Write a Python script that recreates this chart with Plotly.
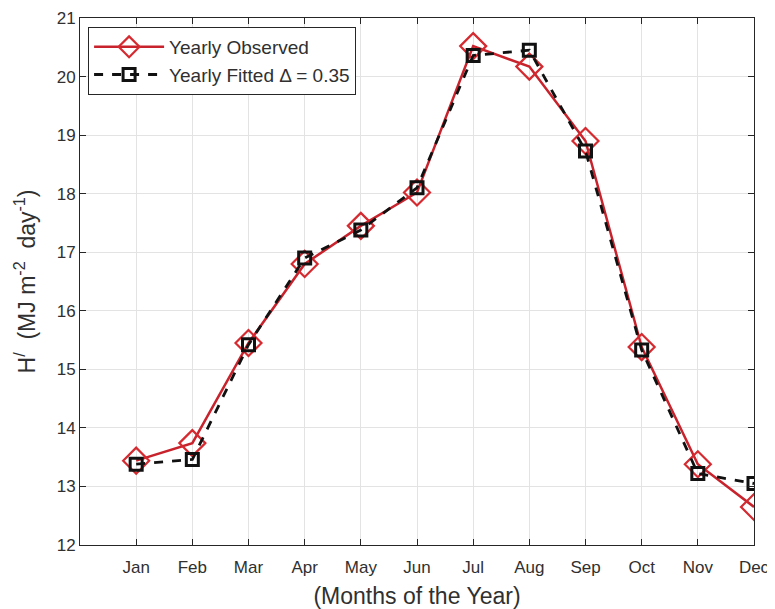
import plotly.graph_objects as go

months = ["Jan", "Feb", "Mar", "Apr", "May", "Jun", "Jul", "Aug", "Sep", "Oct", "Nov", "Dec"]
month_pos = [1, 2, 3, 4, 5, 6, 7, 8, 9, 10, 11, 12]
observed = [13.44, 13.74, 15.45, 16.80, 17.45, 18.02, 20.52, 20.17, 18.90, 15.38, 13.38, 12.65]
fitted = [13.38, 13.46, 15.42, 16.90, 17.38, 18.10, 20.36, 20.45, 18.73, 15.33, 13.22, 13.05]
y_ticks = [12, 13, 14, 15, 16, 17, 18, 19, 20, 21]

fig = go.Figure()
fig.add_trace(go.Scatter(
    x=month_pos, y=observed, mode="lines+markers", name="Yearly Observed",
    line=dict(color="#c8232c", width=2.5),
    marker=dict(symbol="diamond-open", size=20, color="#d42a30", line=dict(width=2.2, color="#d42a30")),
))
fig.add_trace(go.Scatter(
    x=month_pos, y=fitted, mode="lines+markers", name="Yearly Fitted \u0394 = 0.35",
    line=dict(color="#111111", width=2.8, dash="dash"),
    marker=dict(symbol="square-open", size=12, color="#111111", line=dict(width=3, color="#111111")),
))

fig.update_layout(
    width=767, height=601,
    paper_bgcolor="white", plot_bgcolor="white",
    margin=dict(l=72, r=21, t=10, b=64),
    font=dict(family="Liberation Sans, Arial, sans-serif", color="#303030", size=16),
    showlegend=True,
    legend=dict(
        x=0.012, y=0.983, xanchor="left", yanchor="top",
        bgcolor="white", bordercolor="#262626", borderwidth=1,
        font=dict(size=19, color="#303030"),
        tracegroupgap=0, itemwidth=70,
    ),
    xaxis=dict(
        range=[0, 12], tickmode="array", tickvals=month_pos, ticktext=months,
        showgrid=True, gridcolor="#e3e3e3", gridwidth=1,
        showline=True, linecolor="#262626", linewidth=1, mirror="ticks",
        ticks="inside", ticklen=6, tickcolor="#262626", ticklabelstandoff=7,
        tickfont=dict(size=17), zeroline=False, automargin=False,
        title=dict(text="(Months of the Year)", font=dict(size=23), standoff=11),
    ),
    yaxis=dict(
        range=[12, 21], tickmode="array", tickvals=y_ticks,
        showgrid=True, gridcolor="#e3e3e3", gridwidth=1,
        showline=True, linecolor="#262626", linewidth=1, mirror="ticks",
        ticks="inside", ticklen=6, tickcolor="#262626",
        tickfont=dict(size=17), zeroline=False, automargin=False,
        title=dict(text="H<sup>/</sup>  (MJ m<sup>-2</sup>  day<sup>-1</sup>)", font=dict(size=23), standoff=14),
    ),
)

fig.write_html("out.html")
